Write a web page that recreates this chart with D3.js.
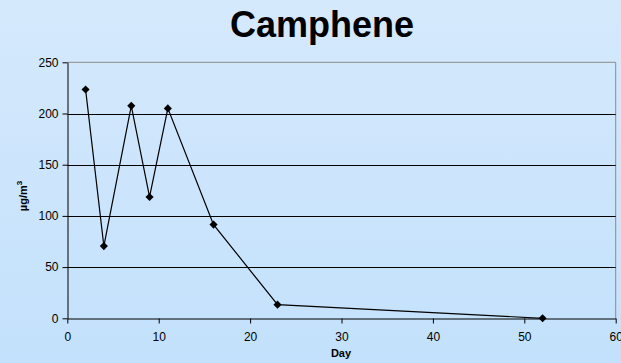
<!DOCTYPE html>
<html>
<head>
<meta charset="utf-8">
<script src="https://cdn.jsdelivr.net/npm/d3@7"></script>
<style>
  html, body { margin: 0; padding: 0; }
  svg { display: block; font-family: "Liberation Sans", Arial, sans-serif; }
</style>
</head>
<body>
<svg id="chart" width="621" height="363"></svg>
<script>
// data
var days = [2, 4, 7, 9, 11, 16, 23, 52];
var camphene = [223.5, 70.5, 207.5, 118.5, 205, 91.5, 13.3, 0];
var xTicks = [0, 10, 20, 30, 40, 50, 60];
var yTicks = [0, 50, 100, 150, 200, 250];

var svg = d3.select("#chart"),
    width = +svg.attr("width"),
    height = +svg.attr("height");

var margin = {left: 67, right: 5, top: 62, bottom: 45};

// background gradient
var defs = svg.append("defs");
var grad = defs.append("linearGradient")
    .attr("id", "bg").attr("x1", 0).attr("y1", 0).attr("x2", 0).attr("y2", 1);
grad.append("stop").attr("offset", "0%").attr("stop-color", "#d5e9fc");
grad.append("stop").attr("offset", "100%").attr("stop-color", "#c3e1fc");
svg.append("rect").attr("width", width).attr("height", height).attr("fill", "url(#bg)");

var x = d3.scaleLinear().domain([0, 60]).range([67.3, 615.7]);
var y = d3.scaleLinear().domain([0, 250]).range([318.3, 62.3]);

// plot border (top, right) in gray
svg.append("path")
    .attr("d", "M" + x(0) + "," + y(250) + "H" + x(60) + "V" + y(0))
    .attr("fill", "none").attr("stroke", "#8c8c8c").attr("stroke-width", 1);

// gridlines
svg.append("g").selectAll("line")
    .data(yTicks.filter(function (d) { return d > 0 && d < 250; }))
    .join("line")
    .attr("x1", x(0)).attr("x2", x(60))
    .attr("y1", function (d) { return Math.round(y(d)) + 0.5; })
    .attr("y2", function (d) { return Math.round(y(d)) + 0.5; })
    .attr("stroke", "#000").attr("stroke-width", 1);

// axes
var xAxis = svg.append("g")
    .attr("transform", "translate(0," + (Math.round(y(0)) + 0.5) + ")")
    .call(d3.axisBottom(x).tickValues(xTicks).tickSize(5).tickPadding(9).tickSizeOuter(0));
var yAxis = svg.append("g")
    .attr("transform", "translate(" + (Math.round(x(0)) + 0.5) + ",0)")
    .call(d3.axisLeft(y).tickValues(yTicks).tickSize(5).tickPadding(4).tickSizeOuter(0));

[xAxis, yAxis].forEach(function (g) {
    g.select(".domain").attr("stroke", "#000");
    g.selectAll(".tick line").attr("stroke", "#000");
    g.selectAll("text")
        .attr("fill", "#000")
        .style("font-family", "'Liberation Sans', Arial, sans-serif")
        .style("font-size", "12px");
});

// the series
var line = d3.line()
    .x(function (d, i) { return x(days[i]); })
    .y(function (d) { return y(d); });

svg.append("path")
    .datum(camphene)
    .attr("d", line)
    .attr("fill", "none")
    .attr("stroke", "#000")
    .attr("stroke-width", 1.2);

svg.append("g").selectAll("path")
    .data(camphene)
    .join("path")
    .attr("d", d3.symbol().type(d3.symbolDiamond2).size(42))
    .attr("transform", function (d, i) { return "translate(" + x(days[i]) + "," + y(d) + ")"; })
    .attr("fill", "#000");

// title and labels
svg.append("text")
    .attr("x", 322).attr("y", 37)
    .attr("text-anchor", "middle")
    .style("font-weight", "bold")
    .style("font-size", "36px")
    .text("Camphene");

svg.append("text")
    .attr("x", 341).attr("y", 357)
    .attr("text-anchor", "middle")
    .style("font-weight", "bold")
    .style("font-size", "11px")
    .text("Day");

var yl = svg.append("text")
    .attr("transform", "translate(27,196) rotate(-90)")
    .attr("text-anchor", "middle")
    .style("font-weight", "bold")
    .style("font-size", "11px");
yl.append("tspan").text("µg/m");
yl.append("tspan").attr("dy", -5).style("font-size", "8px").text("3");
</script>
</body>
</html>
